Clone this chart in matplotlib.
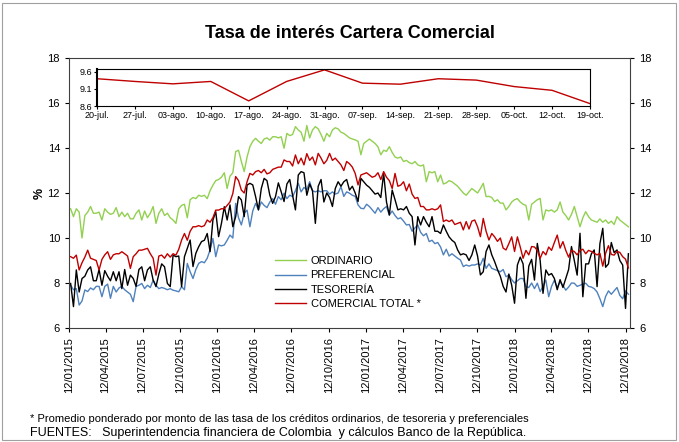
import matplotlib
matplotlib.use("Agg")
import matplotlib.pyplot as plt
import matplotlib.dates as mdates
import pandas as pd
from matplotlib.patches import Rectangle

plt.rcParams['font.family'] = ['Liberation Sans', 'DejaVu Sans']

# weekly observations, first one 16/01/2015, last one 19/10/2018
first_week = "2015-01-16"
last_week = "2018-10-19"

ordinario = [
    11.3, 10.95, 11.3, 11.15, 10.0, 11.0, 11.15, 11.4, 11.1, 11.1, 11.15, 10.8, 11.3,
    11.15, 11.05, 11.1, 11.35, 10.95, 11.15, 10.95, 11.1, 10.85, 10.85, 11.1, 11.25, 10.8,
    11.2, 10.9, 11.1, 11.4, 10.65, 11.1, 11.3, 11.0, 11.1, 10.9, 10.8, 10.65, 11.3,
    11.45, 11.5, 10.9, 11.7, 11.8, 11.75, 11.9, 11.85, 11.9, 11.75, 12.1, 12.35, 12.55,
    12.6, 12.7, 12.9, 12.2, 12.75, 12.9, 13.84, 13.9, 13.4, 12.95, 13.6, 14.06, 14.3,
    14.43, 14.3, 14.2, 14.4, 14.45, 14.35, 14.5, 14.5, 14.45, 14.5, 13.99, 14.65, 14.55,
    14.6, 14.95, 14.8, 14.7, 14.3, 15.0, 14.45, 14.8, 14.95, 14.85, 14.6, 14.3, 14.65,
    14.5, 14.8, 14.9, 14.85, 14.7, 14.65, 14.55, 14.45, 14.4, 14.36, 14.3, 13.7, 14.2,
    14.3, 14.4, 14.3, 14.2, 14.05, 13.7, 13.9, 13.85, 14.06, 13.8, 13.6, 13.55, 13.6,
    13.4, 13.45, 13.35, 13.3, 13.4, 13.25, 13.2, 13.25, 12.5, 12.95, 12.9, 12.95, 12.5,
    12.8, 12.4, 12.45, 12.55, 12.5, 12.4, 12.3, 12.15, 12.0, 11.9, 12.05, 12.2, 12.1,
    12.0, 12.2, 12.43, 11.84, 11.85, 11.8, 11.62, 11.7, 11.55, 11.55, 11.25, 11.4, 11.6,
    11.7, 11.75, 11.6, 11.5, 11.45, 10.8, 11.5, 11.6, 11.7, 11.76, 10.8, 11.25, 11.2,
    11.25, 11.15, 11.25, 11.6, 11.15, 11.0, 10.8, 11.05, 11.4, 10.95, 10.5, 10.9, 11.17,
    10.95, 10.8, 10.75, 10.7, 10.85, 10.7, 10.8, 10.65, 10.75, 10.6, 10.95, 10.8, 10.7, 10.6, 10.5,
]

preferencial = [
    7.9, 7.7, 7.75, 7.02, 7.2, 7.69, 7.62, 7.78, 7.7, 7.85, 7.85, 7.39, 7.85,
    7.95, 7.32, 7.85, 7.6, 7.78, 7.85, 7.7, 7.6, 7.5, 7.17, 7.85, 7.9, 7.98,
    7.75, 7.9, 7.8, 8.13, 7.9, 7.75, 7.8, 7.76, 7.7, 7.75, 7.68, 7.65, 7.61,
    7.84, 7.7, 8.87, 8.5, 8.2, 8.6, 8.87, 8.95, 8.9, 9.1, 9.47, 9.98, 9.17,
    9.69, 9.65, 9.69, 9.9, 10.13, 10.0, 11.54, 10.9, 10.58, 11.1, 11.24, 10.5, 11.2,
    11.54, 11.25, 11.6, 11.45, 11.35, 11.6, 11.75, 11.5, 11.84, 11.7, 11.99, 11.75, 11.9,
    11.84, 12.1, 12.43, 12.05, 12.25, 12.15, 12.5, 12.1, 12.05, 12.1, 12.05, 12.1, 12.1,
    11.95, 12.05, 11.95, 12.0, 12.28, 11.85, 12.05, 11.99, 11.9, 11.85, 11.47, 11.32, 11.3,
    11.5, 11.4, 11.25, 11.1, 11.35, 11.15, 11.3, 11.4, 11.02, 11.2, 11.0, 10.85, 10.9,
    10.75, 10.58, 10.6, 10.3, 10.45, 10.58, 10.25, 10.1, 10.2, 9.84, 9.9, 9.75, 9.8,
    9.6, 9.25, 9.5, 9.2, 9.3, 9.2, 9.1, 9.02, 8.73, 8.8, 8.75, 8.8, 8.8,
    8.85, 8.8, 9.1, 8.65, 8.85, 8.65, 8.6, 8.55, 8.5, 8.6, 8.28, 8.35, 8.15,
    8.0, 8.1, 8.2, 8.2, 7.84, 7.8, 8.0, 7.75, 7.99, 7.62, 7.85, 8.13, 7.39,
    7.85, 8.13, 7.8, 8.05, 7.9, 7.68, 7.82, 8.0, 7.99, 7.85, 7.9, 7.95, 7.99,
    7.85, 7.82, 7.75, 7.6, 7.3, 6.95, 7.4, 7.65, 7.5, 7.65, 7.8, 7.45, 7.3, 7.65, 7.5,
]

tesoreria = [
    7.98, 6.95, 8.58, 7.6, 8.2, 8.3, 8.58, 8.72, 8.1, 8.1, 8.6, 7.9, 8.55,
    8.3, 8.1, 8.5, 8.1, 8.5, 7.75, 8.6, 7.9, 8.35, 8.2, 7.85, 8.6, 8.72,
    8.1, 8.58, 8.72, 8.13, 7.84, 8.4, 8.85, 8.72, 7.98, 7.84, 9.24, 9.17, 9.2,
    7.84, 9.17, 9.54, 9.91, 8.73, 9.32, 9.61, 9.84, 9.9, 10.2, 9.39, 10.8, 11.17,
    10.06, 10.65, 11.39, 10.8, 11.47, 10.5, 10.95, 11.84, 11.69, 10.95, 12.35, 12.43, 12.36,
    11.84, 11.25, 12.2, 12.65, 12.55, 11.9, 11.54, 11.84, 12.45, 12.05, 11.62, 12.4, 12.6,
    11.9, 11.25, 12.8, 12.95, 12.9, 11.9, 12.4, 12.1, 10.65, 12.3, 12.6, 11.6, 12.0,
    11.8, 11.4, 12.2, 12.5, 12.3, 12.5, 12.6, 12.13, 12.3, 12.0, 11.62, 12.65, 12.5,
    12.35, 12.25, 12.1, 11.95, 12.0, 11.8, 12.87, 11.6, 11.02, 12.13, 11.7, 11.25, 11.3,
    11.25, 11.4, 11.1, 10.95, 9.69, 10.95, 10.58, 10.95, 10.7, 10.5, 10.95, 10.3, 10.3,
    10.2, 10.58, 10.3, 10.05, 9.9, 9.8, 9.47, 9.25, 9.3, 9.25, 9.0, 9.25, 9.69,
    9.2, 8.36, 8.5, 9.4, 9.69, 9.25, 8.95, 8.6, 8.3, 7.85, 7.6, 8.4, 7.9,
    7.1, 8.8, 9.15, 8.85, 7.32, 8.75, 9.05, 8.13, 9.76, 9.0, 7.54, 8.58, 8.35,
    8.42, 8.2, 7.7, 8.15, 7.8, 8.2, 8.6, 9.62, 9.0, 8.35, 10.21, 7.39, 8.85,
    8.85, 9.3, 9.47, 7.84, 9.75, 10.43, 8.7, 8.85, 9.8, 9.35, 9.47, 9.0, 8.8, 6.87, 9.3,
]

comercial_total = [
    9.17, 9.1, 9.24, 8.58, 8.9, 9.15, 9.46, 9.1, 9.05, 9.0, 8.58, 9.05, 9.25,
    9.39, 9.05, 9.25, 9.3, 9.3, 9.39, 9.3, 9.2, 8.65, 9.17, 9.3, 9.46, 9.46,
    9.5, 9.54, 9.3, 9.1, 8.35, 9.2, 9.24, 9.1, 9.3, 9.15, 9.3, 9.24, 9.5,
    9.91, 10.2, 9.9, 10.3, 10.5, 10.5, 10.55, 10.5, 10.55, 10.8, 10.7, 10.9, 11.24,
    11.24, 11.3, 11.3, 11.45, 11.6, 11.98, 12.73, 12.55, 12.13, 12.0, 12.5, 12.87, 12.8,
    12.95, 13.0, 12.9, 13.05, 12.85, 12.9, 13.05, 13.1, 13.15, 13.15, 13.47, 13.4, 13.4,
    13.2, 13.69, 13.3, 13.55, 13.25, 13.75, 13.45, 13.6, 13.25, 13.76, 13.55, 13.3, 13.45,
    13.76, 13.45, 13.55, 13.4, 13.25, 13.0, 13.4, 13.3, 13.15, 12.87, 12.36, 12.8, 12.85,
    12.9, 12.8, 12.7, 12.75, 12.9, 12.6, 12.95, 12.7, 12.55, 12.2, 12.87, 12.3, 12.35,
    12.5, 12.1, 12.4, 11.95, 11.76, 11.8, 11.4, 11.4, 11.25, 11.25, 11.3, 11.25, 11.3,
    11.47, 10.73, 10.8, 10.73, 10.8, 10.6, 10.65, 10.7, 10.36, 10.73, 10.4, 10.75, 10.8,
    10.5, 10.06, 10.87, 10.3, 9.91, 10.2, 10.05, 9.85, 10.0, 9.55, 9.47, 9.75, 10.05,
    9.4, 10.05, 9.6, 9.1, 9.45, 9.25, 9.62, 9.6, 9.45, 9.1, 9.4, 9.25, 9.6,
    9.45, 9.8, 10.13, 9.55, 9.84, 9.45, 9.15, 9.45, 9.4, 9.25, 9.45, 9.5, 9.3,
    9.45, 9.40, 9.32, 9.25, 9.32, 8.75, 9.32, 9.66, 9.27, 9.24, 9.40, 9.36, 9.17, 9.06, 8.67,
]

series_names = ["ORDINARIO", "PREFERENCIAL", "TESORERÍA", "COMERCIAL TOTAL *"]
series_colors = ["#92D050", "#4F81BD", "#000000", "#C00000"]

tick_labels = ["12/01/2015", "12/04/2015", "12/07/2015", "12/10/2015",
               "12/01/2016", "12/04/2016", "12/07/2016", "12/10/2016",
               "12/01/2017", "12/04/2017", "12/07/2017", "12/10/2017",
               "12/01/2018", "12/04/2018", "12/07/2018", "12/10/2018"]

inset_labels = ["20-jul.", "27-jul.", "03-ago.", "10-ago.", "17-ago.", "24-ago.", "31-ago.",
                "07-sep.", "14-sep.", "21-sep.", "28-sep.", "05-oct.", "12-oct.", "19-oct."]

title = "Tasa de interés Cartera Comercial"
note1 = "* Promedio ponderado por monto de las tasa de los créditos ordinarios, de tesoreria y preferenciales"
note2 = "FUENTES:   Superintendencia financiera de Colombia  y cálculos Banco de la República."


def main():
    dates = pd.date_range(first_week, last_week, freq="7D")
    ticks = pd.to_datetime(tick_labels, format="%d/%m/%Y")

    W, H = 679, 442
    fig = plt.figure(figsize=(W / 100, H / 100), dpi=100)
    fig.patches.append(Rectangle((2 / W, 2 / H), 674 / W, 437 / H, transform=fig.transFigure,
                                 fill=False, edgecolor="#A0A0A0", linewidth=0.8))

    ax = fig.add_axes([69 / W, 1 - 328 / H, 561 / W, 270 / H])
    for vals, name, col in zip([ordinario, preferencial, tesoreria, comercial_total],
                               series_names, series_colors):
        ax.plot(dates, vals, color=col, linewidth=1.0, label=name)

    ax.set_ylim(6, 18)
    ax.set_yticks(range(6, 19, 2))
    ax.set_xlim(pd.Timestamp("2015-01-12"), pd.Timestamp("2018-10-23"))
    ax.set_xticks(ticks)
    ax.set_xticklabels(tick_labels, rotation=90, fontsize=8)
    ax.tick_params(axis="y", labelsize=8, right=True, labelright=True, direction="out", length=3)
    ax.tick_params(axis="x", direction="out", length=3)
    for s in ax.spines.values():
        s.set_color("#404040")
        s.set_linewidth(0.8)
    ax.set_ylabel("%", fontsize=9, fontweight="bold", labelpad=1)

    ax.legend(loc="upper left", bbox_to_anchor=(265 / W, 1 - 246 / H),
              bbox_transform=fig.transFigure, frameon=False, fontsize=8,
              handlelength=2.8, handletextpad=0.4, labelspacing=0.4)

    fig.text(350 / W, 1 - 33 / H, title, ha="center", va="center", fontsize=13, fontweight="bold")

    # inset: last 14 weeks of the total
    ins = fig.add_axes([97 / W, 1 - 106 / H, 493 / W, 37.5 / H])
    xi = list(range(len(inset_labels)))
    ins.plot(xi, comercial_total[-len(inset_labels):], color="#C00000", linewidth=1.0)
    ins.set_xlim(0, len(inset_labels) - 1)
    ins.set_ylim(8.6, 9.7)
    ins.set_yticks([8.6, 9.1, 9.6])
    ins.set_yticklabels(["8.6", "9.1", "9.6"])
    ins.set_xticks(xi)
    ins.set_xticklabels(inset_labels)
    ins.tick_params(labelsize=6.5, length=2, pad=1.5)
    for s in ins.spines.values():
        s.set_color("#000000")
        s.set_linewidth(0.8)
    ins.spines["left"].set_linewidth(1.5)

    fig.text(30 / W, 1 - 419 / H, note1, ha="left", va="center", fontsize=8)
    fig.text(30 / W, 1 - 433 / H, note2, ha="left", va="center", fontsize=9)

    fig.savefig("out.png", dpi=100)


if __name__ == "__main__":
    main()
